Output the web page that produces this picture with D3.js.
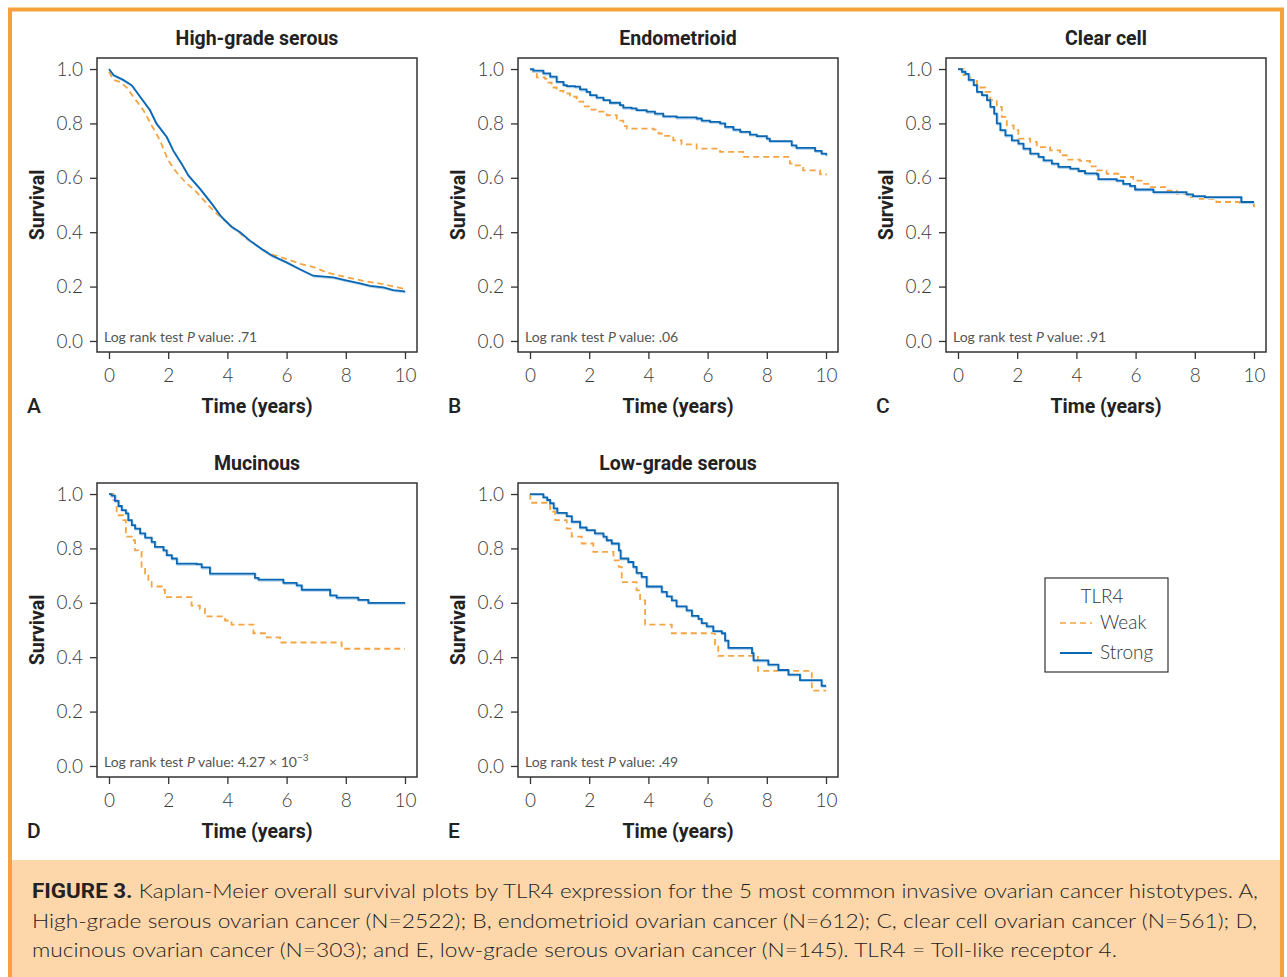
<!DOCTYPE html>
<html><head><meta charset="utf-8">
<script src="https://cdn.jsdelivr.net/npm/d3@7"></script>
<style>body{margin:0;background:#fff} svg{display:block}</style>
</head><body><svg id="c" width="1287" height="977"></svg>
<script>
// ---------- DATA ----------
const xTicks = [0, 2, 4, 6, 8, 10];
const yTicks = [0.0, 0.2, 0.4, 0.6, 0.8, 1.0];
const panelTitles = ["High-grade serous", "Endometrioid", "Clear cell", "Mucinous", "Low-grade serous"];
const panelLetters = ["A", "B", "C", "D", "E"];
const pValues = [".71", ".06", ".91", "4.27 × 10", ".49"];
const pExponent = ["", "", "", "−3", ""];
const legendTitle = "TLR4";
const seriesNames = ["Weak", "Strong"];

// A: High-grade serous
const hgsStrongT = [0, 0.15, 0.48, 0.77, 1.05, 1.38, 1.6, 1.95, 2.17, 2.45, 2.68, 3.07, 3.47, 3.8, 4.14, 4.43, 4.76, 5.16, 5.5, 6.0, 6.45, 6.9, 7.58, 7.97, 8.48, 8.82, 9.27, 9.6, 10];
const hgsStrongS = [1.0, 0.978, 0.96, 0.94, 0.898, 0.849, 0.80, 0.75, 0.70, 0.652, 0.609, 0.56, 0.505, 0.456, 0.42, 0.40, 0.369, 0.338, 0.314, 0.289, 0.264, 0.24, 0.234, 0.224, 0.212, 0.203, 0.197, 0.187, 0.182];
const hgsWeakT = [0, 0.15, 0.37, 0.6, 0.82, 1.16, 1.44, 1.72, 2.0, 2.23, 2.57, 2.96, 3.3, 3.64, 3.97, 4.31, 4.65, 4.99, 5.44, 6.0, 6.5, 6.96, 7.35, 8.03, 8.59, 9.27, 10];
const hgsWeakS = [0.99, 0.96, 0.953, 0.932, 0.898, 0.849, 0.793, 0.738, 0.664, 0.627, 0.585, 0.547, 0.505, 0.468, 0.437, 0.406, 0.375, 0.351, 0.32, 0.301, 0.283, 0.27, 0.252, 0.234, 0.221, 0.209, 0.191];

// B: Endometrioid
const endoStrongT = [0, 0.11, 0.45, 0.68, 0.9, 1.13, 1.24, 1.52, 1.69, 1.91, 2.03, 2.25, 2.48, 2.7, 3.04, 3.15, 3.43, 3.6, 3.94, 4.22, 4.5, 4.95, 5.63, 5.8, 6.08, 6.42, 6.59, 6.87, 7.1, 7.43, 7.66, 8.0, 8.1, 8.84, 9.0, 9.63, 9.85, 10];
const endoStrongS = [1.0, 0.994, 0.984, 0.972, 0.953, 0.941, 0.937, 0.935, 0.925, 0.916, 0.904, 0.895, 0.886, 0.876, 0.867, 0.858, 0.855, 0.849, 0.843, 0.836, 0.826, 0.822, 0.818, 0.81, 0.806, 0.80, 0.787, 0.777, 0.769, 0.759, 0.753, 0.744, 0.735, 0.719, 0.71, 0.699, 0.689, 0.683];
const endoWeakT = [0, 0.11, 0.23, 0.51, 0.56, 0.73, 0.9, 1.13, 1.35, 1.58, 1.8, 2.03, 2.25, 2.59, 2.93, 3.15, 3.27, 4.17, 4.34, 4.5, 4.84, 5.12, 5.63, 6.42, 7.2, 8.78, 8.9, 9.23, 9.8, 10];
const endoWeakS = [0.996, 0.982, 0.969, 0.964, 0.95, 0.932, 0.92, 0.91, 0.898, 0.88, 0.863, 0.851, 0.843, 0.83, 0.81, 0.79, 0.781, 0.777, 0.763, 0.754, 0.738, 0.723, 0.707, 0.695, 0.677, 0.652, 0.646, 0.627, 0.613, 0.609];

// C: Clear cell
const ccStrongT = [0, 0.13, 0.25, 0.36, 0.53, 0.64, 0.81, 0.98, 1.09, 1.22, 1.31, 1.43, 1.6, 1.82, 2.04, 2.21, 2.44, 2.72, 2.89, 3.17, 3.39, 3.79, 4.07, 4.29, 4.69, 4.74, 5.36, 5.58, 5.81, 5.98, 6.6, 7.72, 7.94, 8.34, 9.57, 10];
const ccStrongS = [1.0, 0.99, 0.982, 0.96, 0.941, 0.916, 0.904, 0.886, 0.861, 0.836, 0.80, 0.775, 0.756, 0.738, 0.726, 0.707, 0.689, 0.677, 0.664, 0.652, 0.64, 0.634, 0.625, 0.616, 0.613, 0.595, 0.59, 0.578, 0.57, 0.557, 0.547, 0.539, 0.533, 0.529, 0.511, 0.511];
const ccWeakT = [0, 0.19, 0.42, 0.64, 0.92, 1.09, 1.31, 1.48, 1.65, 1.88, 2.04, 2.44, 2.66, 3.11, 3.45, 3.67, 4.12, 4.46, 4.69, 5.02, 5.47, 5.92, 6.2, 6.48, 7.04, 7.39, 7.83, 8.17, 8.73, 9.52, 9.85, 10];
const ccWeakS = [1.0, 0.978, 0.96, 0.932, 0.916, 0.886, 0.861, 0.824, 0.793, 0.775, 0.744, 0.732, 0.713, 0.701, 0.683, 0.667, 0.662, 0.642, 0.627, 0.615, 0.603, 0.59, 0.578, 0.566, 0.553, 0.541, 0.529, 0.523, 0.511, 0.508, 0.502, 0.492];

// D: Mucinous
const mucStrongT = [0, 0.09, 0.2, 0.32, 0.43, 0.57, 0.65, 0.77, 0.88, 1.05, 1.22, 1.44, 1.55, 1.84, 1.95, 2.12, 2.29, 2.96, 3.13, 3.41, 4.93, 5.05, 5.89, 6.34, 6.51, 7.47, 7.69, 8.42, 8.76, 10];
const mucStrongS = [1.0, 0.994, 0.975, 0.956, 0.941, 0.929, 0.904, 0.886, 0.873, 0.855, 0.84, 0.824, 0.806, 0.793, 0.775, 0.763, 0.744, 0.742, 0.73, 0.707, 0.692, 0.685, 0.673, 0.664, 0.648, 0.627, 0.619, 0.611, 0.60, 0.60];
const mucWeakT = [0, 0.15, 0.26, 0.48, 0.57, 0.77, 0.88, 0.99, 1.1, 1.22, 1.33, 1.44, 1.78, 1.89, 2.79, 3.07, 3.24, 3.92, 4.14, 4.88, 5.33, 5.78, 7.86, 10];
const mucWeakS = [1.0, 0.978, 0.922, 0.904, 0.843, 0.83, 0.793, 0.787, 0.732, 0.707, 0.676, 0.66, 0.648, 0.621, 0.59, 0.578, 0.55, 0.535, 0.52, 0.488, 0.473, 0.454, 0.431, 0.431];

// E: Low-grade serous
const lgsStrongT = [0, 0.45, 0.58, 0.68, 0.8, 0.92, 1.24, 1.41, 1.69, 1.91, 2.19, 2.48, 2.59, 2.76, 3.0, 3.06, 3.32, 3.49, 3.6, 3.77, 3.94, 4.45, 4.62, 4.79, 4.95, 5.29, 5.47, 5.69, 5.8, 5.97, 6.19, 6.48, 6.59, 6.7, 7.5, 7.55, 8.05, 8.39, 8.73, 9.12, 9.85, 10];
const lgsStrongS = [1.0, 0.988, 0.978, 0.966, 0.947, 0.931, 0.919, 0.898, 0.877, 0.867, 0.855, 0.843, 0.83, 0.818, 0.793, 0.763, 0.75, 0.732, 0.71, 0.695, 0.66, 0.64, 0.624, 0.609, 0.587, 0.572, 0.552, 0.541, 0.525, 0.513, 0.496, 0.488, 0.461, 0.434, 0.415, 0.388, 0.373, 0.353, 0.336, 0.316, 0.295, 0.295];
const lgsWeakT = [0, 0.01, 0.68, 0.85, 1.24, 1.41, 1.75, 2.14, 2.82, 3.0, 3.1, 3.6, 3.72, 3.89, 4.79, 6.25, 6.36, 7.7, 9.52, 10];
const lgsWeakS = [1.0, 0.968, 0.935, 0.904, 0.873, 0.843, 0.818, 0.787, 0.756, 0.732, 0.676, 0.646, 0.609, 0.52, 0.488, 0.446, 0.405, 0.35, 0.277, 0.277];

// ---------- LAYOUT / STYLE ----------
const W = 1287, H = 977;
const blue = "#0b67b2", orange = "#f5a442", frame = "#f6a23c", peach = "#fdd6aa";
const boxes = [
  {x: 97, y: 58}, {x: 518, y: 58}, {x: 946, y: 58},
  {x: 97, y: 483}, {x: 518, y: 483}
];
const BW = 320, BH = 294;
const panelSeries = [
  [[hgsWeakT, hgsWeakS], [hgsStrongT, hgsStrongS]],
  [[endoWeakT, endoWeakS], [endoStrongT, endoStrongS]],
  [[ccWeakT, ccWeakS], [ccStrongT, ccStrongS]],
  [[mucWeakT, mucWeakS], [mucStrongT, mucStrongS]],
  [[lgsWeakT, lgsWeakS], [lgsStrongT, lgsStrongS]]
];
const smoothPanel = [true, false, false, false, false];

const svg = d3.select("#c");
const tickFont = "Lato, 'Open Sans', sans-serif";
const boldFont = "Roboto, 'Open Sans', sans-serif";

// frame + caption background
svg.append("rect").attr("x", 0).attr("y", 0).attr("width", W).attr("height", H).attr("fill", "#fff");
svg.append("rect").attr("x", 10).attr("y", 860).attr("width", 1272).attr("height", H - 860).attr("fill", peach);
svg.append("path")
  .attr("d", `M10,${H} V9.5 H1282 V${H}`)
  .attr("fill", "none").attr("stroke", frame).attr("stroke-width", 4);

boxes.forEach((b, i) => {
  const g = svg.append("g");
  const padX = BW * 0.0375, padY = BH * 0.0375;
  const x = d3.scaleLinear().domain([0, 10]).range([b.x + padX, b.x + BW - padX]);
  const y = d3.scaleLinear().domain([0, 1]).range([b.y + BH - padY, b.y + padY]);

  // axes
  const ax = g.append("g").attr("transform", `translate(0,${b.y + BH})`)
    .call(d3.axisBottom(x).tickValues(xTicks).tickSize(7).tickPadding(6).tickFormat(d3.format("d")));
  const ay = g.append("g").attr("transform", `translate(${b.x},0)`)
    .call(d3.axisLeft(y).tickValues(yTicks).tickSize(7).tickPadding(7).tickFormat(d3.format(".1f")));
  [ax, ay].forEach(a => {
    a.select(".domain").remove();
    a.selectAll(".tick line").attr("stroke", "#333").attr("stroke-width", 1.3);
    a.selectAll(".tick text").attr("fill", "#3a3a3a").style("font-family", tickFont)
      .style("font-weight", 300).style("font-size", "19px");
  });
  ax.selectAll(".tick text").attr("dy", "0.9em");

  // curves
  panelSeries[i].forEach((s, k) => {
    const pts = s[0].map((t, j) => [t, s[1][j]]);
    const line = d3.line().x(d => x(d[0])).y(d => y(d[1]))
      .curve(smoothPanel[i] ? d3.curveLinear : d3.curveStepAfter);
    if (k === 1) {
      g.append("path").attr("d", line(pts)).attr("fill", "none")
        .attr("stroke", "#b5d4ef").attr("stroke-width", 2).attr("transform", "translate(0.8,1)");
    }
    g.append("path").attr("d", line(pts)).attr("fill", "none")
      .attr("stroke", k === 0 ? orange : blue)
      .attr("stroke-width", k === 0 ? 1.8 : 1.8)
      .attr("stroke-dasharray", k === 0 ? "6,4" : null);
  });

  // box
  g.append("rect").attr("x", b.x).attr("y", b.y).attr("width", BW).attr("height", BH)
    .attr("fill", "none").attr("stroke", "#333").attr("stroke-width", 1.5);

  // title
  g.append("text").attr("x", b.x + BW / 2).attr("y", b.y - 13).attr("text-anchor", "middle")
    .style("font-family", boldFont).style("font-weight", 700).style("font-size", "19.5px")
    .attr("fill", "#222").text(panelTitles[i]);
  // x label
  g.append("text").attr("x", b.x + BW / 2).attr("y", b.y + BH + 61).attr("text-anchor", "middle")
    .style("font-family", boldFont).style("font-weight", 700).style("font-size", "19.5px")
    .attr("fill", "#222").text("Time (years)");
  // y label
  g.append("text").attr("transform", `translate(${b.x - 53},${b.y + BH / 2}) rotate(-90)`)
    .attr("text-anchor", "middle")
    .style("font-family", boldFont).style("font-weight", 700).style("font-size", "19.5px")
    .attr("fill", "#222").text("Survival");
  // letter
  g.append("text").attr("x", b.x - 70).attr("y", b.y + BH + 61)
    .style("font-family", boldFont).style("font-weight", 500).style("font-size", "21px")
    .attr("fill", "#222").text(panelLetters[i]);
  // p-value
  const pt = g.append("text").attr("x", b.x + 7).attr("y", y(0) + 1)
    .style("font-family", tickFont).style("font-weight", 400).style("font-size", "14px")
    .attr("fill", "#555");
  pt.append("tspan").text("Log rank test ");
  pt.append("tspan").style("font-style", "italic").text("P");
  pt.append("tspan").text(" value: " + pValues[i]);
  if (pExponent[i]) {
    pt.append("tspan").attr("dy", -6).style("font-size", "10px").text(pExponent[i]);
  }
});

// legend
const lg = svg.append("g");
lg.append("rect").attr("x", 1045).attr("y", 578).attr("width", 123).attr("height", 94)
  .attr("fill", "#fff").attr("stroke", "#333").attr("stroke-width", 1.2);
lg.append("text").attr("x", 1102).attr("y", 603).attr("text-anchor", "middle")
  .style("font-family", tickFont).style("font-weight", 300).style("font-size", "19px")
  .attr("fill", "#333").text(legendTitle);
seriesNames.forEach((n, k) => {
  const yy = 623 + k * 30;
  lg.append("line").attr("x1", 1060).attr("x2", 1092).attr("y1", yy).attr("y2", yy)
    .attr("stroke", k === 0 ? orange : blue).attr("stroke-width", k === 0 ? 1.6 : 2)
    .attr("stroke-dasharray", k === 0 ? "6,4" : null);
  lg.append("text").attr("x", 1100).attr("y", yy + 6)
    .style("font-family", tickFont).style("font-weight", 300).style("font-size", "19px")
    .attr("fill", "#333").text(n);
});

// caption
const capLines = [
  {bold: "FIGURE 3.", rest: " Kaplan-Meier overall survival plots by TLR4 expression for the 5 most common invasive ovarian cancer histotypes. A,", len: 1226},
  {bold: "", rest: "High-grade serous ovarian cancer (N=2522); B, endometrioid ovarian cancer (N=612); C, clear cell ovarian cancer (N=561); D,", len: 1225},
  {bold: "", rest: "mucinous ovarian cancer (N=303); and E, low-grade serous ovarian cancer (N=145). TLR4 = Toll-like receptor 4.", len: 1085}
];
capLines.forEach((c, i) => {
  const t = svg.append("text").attr("x", 32).attr("y", 898 + i * 29.5)
    .attr("textLength", c.len).attr("lengthAdjust", "spacingAndGlyphs")
    .style("font-family", tickFont).style("font-size", "20px").style("font-weight", 300)
    .attr("fill", "#222");
  if (c.bold) t.append("tspan").style("font-family", boldFont).style("font-weight", 700).text(c.bold);
  t.append("tspan").text(c.rest);
});
</script></body></html>
